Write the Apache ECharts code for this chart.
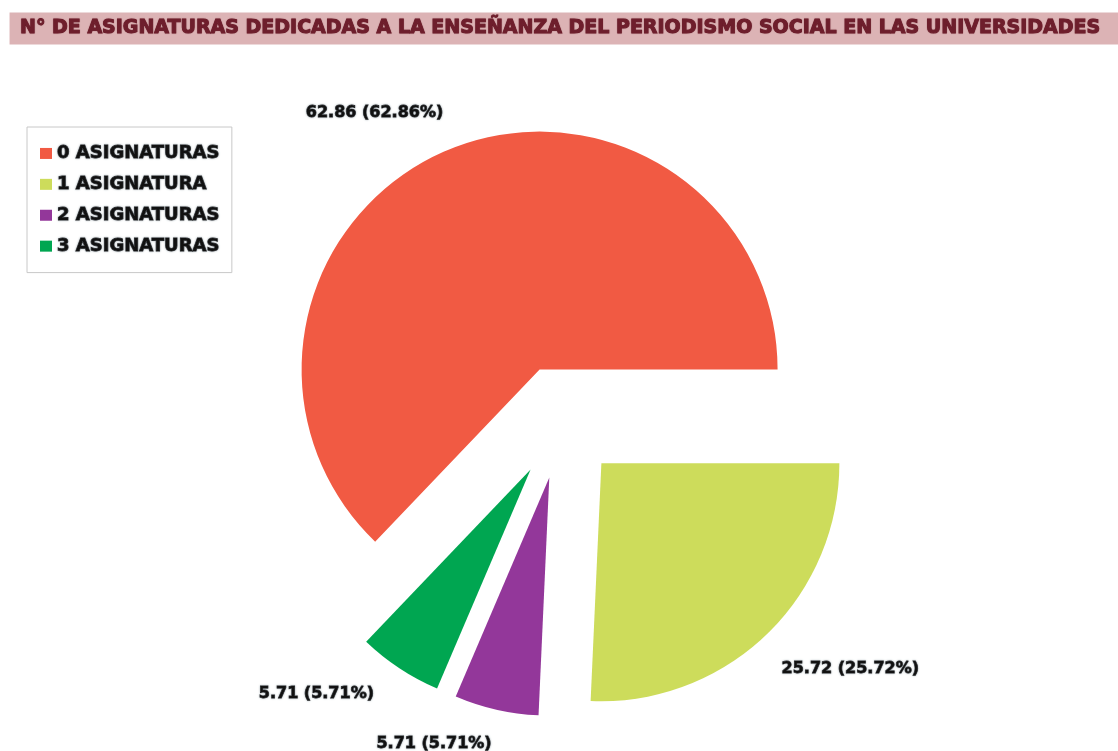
<!DOCTYPE html>
<html><head><meta charset="utf-8">
<script src="https://cdn.jsdelivr.net/npm/echarts@6/dist/echarts.min.js"></script>
<style>html,body{margin:0;padding:0;background:#fff}#c{width:1118px;height:751px}</style>
</head><body><div id="c"></div>
<script>
const titleText = 'N° DE ASIGNATURAS DEDICADAS A LA ENSEÑANZA DEL PERIODISMO SOCIAL EN LAS UNIVERSIDADES';
const legendOrder = ['0 ASIGNATURAS', '1 ASIGNATURA', '2 ASIGNATURAS', '3 ASIGNATURAS'];
// drawing order (clockwise from 3 o'clock)
const categories = ['1 ASIGNATURA', '2 ASIGNATURAS', '3 ASIGNATURAS', '0 ASIGNATURAS'];
const values = [25.72, 5.71, 5.71, 62.86];
const colors = ['#cddc5b', '#93379a', '#00a651', '#f15a43'];
// small label nudges (style only)
const labelNudge = {'0 ASIGNATURAS': [14, -10], '1 ASIGNATURA': [-10, 12], '2 ASIGNATURAS': [7, 5], '3 ASIGNATURAS': [-4, 1]};

const chart = echarts.init(document.getElementById('c'), null, {renderer: 'canvas'});
const font = '"DejaVu Sans", "Liberation Sans", Arial, sans-serif';
chart.setOption({
  animation: false,
  title: {
    text: titleText,
    left: 10, top: 13,
    padding: [6, 20, 6, 10],
    backgroundColor: '#dcb3b5',
    textStyle: {fontFamily: font, fontSize: 19, fontWeight: 'bold', color: '#6e1e2c',
      textBorderColor: '#6e1e2c', textBorderWidth: 0.9,
      textShadowColor: 'rgba(90,20,30,0.45)', textShadowBlur: 1}
  },
  legend: {
    data: legendOrder,
    orient: 'vertical', left: 27, top: 127,
    padding: [17, 12, 17, 13],
    itemGap: 12,
    itemWidth: 12, itemHeight: 11,
    icon: 'rect',
    borderColor: '#c8c8c8', borderWidth: 1, backgroundColor: '#fff',
    textStyle: {fontFamily: font, fontSize: 18, fontWeight: 'bold', color: '#111',
      textBorderColor: '#111', textBorderWidth: 0.9,
      textShadowColor: 'rgba(150,160,170,0.8)', textShadowBlur: 2}
  },
  series: [{
    type: 'pie',
    center: [562, 422],
    radius: 238,
    startAngle: 0,
    clockwise: true,
    selectedMode: 'multiple',
    selectedOffset: 57,
    emphasis: {disabled: true},
    label: {
      show: true, position: 'outside',
      formatter: p => p.value.toFixed(2) + ' (' + p.value.toFixed(2) + '%)',
      fontFamily: font, fontSize: 16, fontWeight: 'bold', color: '#111',
      textBorderColor: '#111', textBorderWidth: 0.8,
      textShadowColor: 'rgba(150,160,170,0.8)', textShadowBlur: 2
    },
    labelLine: {show: false, length: 30, length2: 0},
    labelLayout: p => {
      const n = labelNudge[categories[p.dataIndex]] || [0, 0];
      return {dx: n[0], dy: n[1]};
    },
    data: categories.map((n, i) => ({name: n, value: values[i], selected: true, itemStyle: {color: colors[i]}}))
  }]
});
</script></body></html>
